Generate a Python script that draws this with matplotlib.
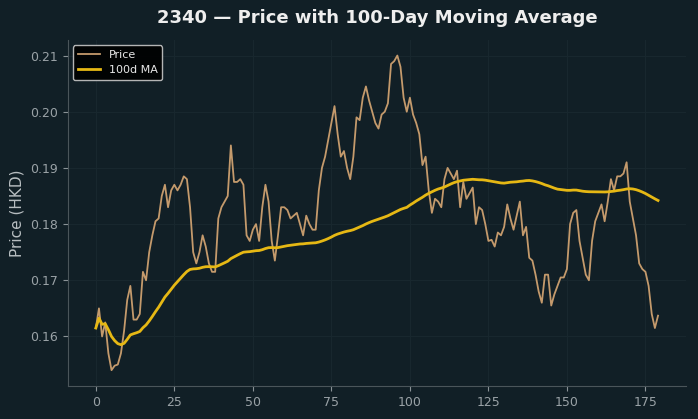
import matplotlib
matplotlib.use("Agg")
import matplotlib.pyplot as plt
import numpy as np
import pandas as pd

title = "2340 \u2014 Price with 100-Day Moving Average"
ylabel = "Price (HKD)"
ma_window = 100

price = [
    0.1615, 0.1650, 0.1600, 0.1625, 0.1570, 0.1540, 0.1548, 0.1550, 0.1570, 0.1610,
    0.1665, 0.1690, 0.1630, 0.1630, 0.1640, 0.1715, 0.1700, 0.1750, 0.1780, 0.1805,
    0.1810, 0.1850, 0.1870, 0.1830, 0.1860, 0.1870, 0.1860, 0.1870, 0.1885, 0.1880,
    0.1830, 0.1750, 0.1730, 0.1750, 0.1780, 0.1760, 0.1730, 0.1715, 0.1715, 0.1810,
    0.1830, 0.1840, 0.1850, 0.1940, 0.1875, 0.1875, 0.1880, 0.1870, 0.1780, 0.1770,
    0.1790, 0.1800, 0.1770, 0.1830, 0.1870, 0.1840, 0.1770, 0.1735, 0.1780, 0.1830,
    0.1830, 0.1825, 0.1810, 0.1815, 0.1820, 0.1800, 0.1780, 0.1815, 0.1800, 0.1790,
    0.1790, 0.1860, 0.1900, 0.1920, 0.1950, 0.1980, 0.2010, 0.1960, 0.1920, 0.1930,
    0.1900, 0.1880, 0.1920, 0.1990, 0.1985, 0.2025, 0.2045, 0.2020, 0.2000, 0.1980,
    0.1970, 0.1995, 0.2000, 0.2015, 0.2085, 0.2090, 0.2100, 0.2080, 0.2025, 0.2000,
    0.2025, 0.1995, 0.1980, 0.1960, 0.1905, 0.1920, 0.1860, 0.1820, 0.1845, 0.1840,
    0.1830, 0.1880, 0.1900, 0.1890, 0.1880, 0.1895, 0.1830, 0.1875, 0.1845, 0.1855,
    0.1865, 0.1800, 0.1830, 0.1825, 0.1800, 0.1770, 0.1772, 0.1760, 0.1785, 0.1780,
    0.1795, 0.1835, 0.1810, 0.1790, 0.1815, 0.1840, 0.1780, 0.1795, 0.1740, 0.1735,
    0.1710, 0.1680, 0.1660, 0.1710, 0.1710, 0.1655, 0.1675, 0.1690, 0.1705, 0.1705,
    0.1720, 0.1800, 0.1820, 0.1825, 0.1770, 0.1740, 0.1710, 0.1700, 0.1770, 0.1805,
    0.1820, 0.1835, 0.1805, 0.1840, 0.1880, 0.1860, 0.1885, 0.1885, 0.1890, 0.1910,
    0.1840, 0.1810, 0.1780, 0.1730, 0.1720, 0.1715, 0.1690, 0.1640, 0.1615, 0.1637,
]

days = np.arange(len(price))
ma = pd.Series(price).rolling(ma_window, min_periods=1).mean()

bg = "#111f26"
fig = plt.figure(figsize=(6.98, 4.19), dpi=100, facecolor=bg)
ax = fig.add_axes([0.097, 0.079, 0.886, 0.826], facecolor=bg)

ax.plot(days, price, color="#c49a6c", lw=1.3, label="Price")
ax.plot(days, ma, color="#e6b814", lw=2.0, label="100d MA")

ax.grid(True, color="#18272e", lw=0.8)
ax.set_axisbelow(True)
for s in ["top", "right"]:
    ax.spines[s].set_visible(False)
for s in ["left", "bottom"]:
    ax.spines[s].set_color("#4a555a")
ax.tick_params(colors="#8a9296", labelcolor="#9aa2a6", labelsize=9)
ax.set_xticks([0, 25, 50, 75, 100, 125, 150, 175])
ax.set_yticks([0.16, 0.17, 0.18, 0.19, 0.20, 0.21])
ax.set_ylabel(ylabel, color="#b8bec1", fontsize=11)
ax.set_title(title, color="#eeeeee", fontsize=13, fontweight="bold", pad=12)

leg = ax.legend(loc="upper left", fontsize=8, facecolor="black", edgecolor="#c8c8c8",
                framealpha=0.9)
for t in leg.get_texts():
    t.set_color("#e8e8e8")

fig.savefig("out.png", dpi=100, facecolor=bg)
